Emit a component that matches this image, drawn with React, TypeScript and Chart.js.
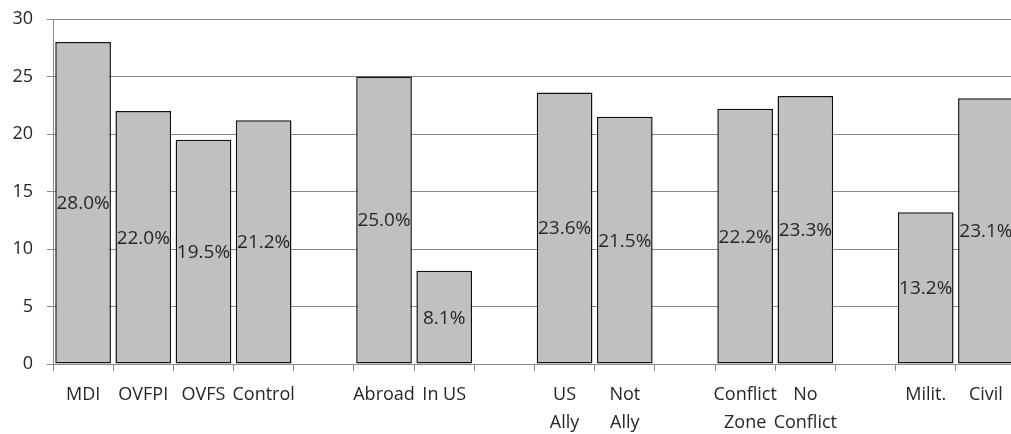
import React, { useEffect, useRef } from "react";
import { Chart, registerables } from "chart.js";

Chart.register(...registerables);

const categories: (string | string[])[] = [
  "MDI", "OVFPI", "OVFS", "Control", "",
  "Abroad", "In US", "",
  ["US", "Ally"], ["Not", "Ally"], "",
  ["Conflict", "Zone"], ["No", "Conflict"], "",
  "Milit.", "Civil",
];
const values: (number | null)[] = [
  28.0, 22.0, 19.5, 21.2, null,
  25.0, 8.1, null,
  23.6, 21.5, null,
  22.2, 23.3, null,
  13.2, 23.1,
];
const valueLabels: (string | null)[] = values.map((v) => (v == null ? null : v.toFixed(1) + "%"));
const yMin = 0;
const yMax = 30;
const yStep = 5;

const FONT = "'Open Sans', sans-serif";
const TEXT = "#262626";
const GRID = "#8a8a8a";

const barLabelPlugin = {
  id: "barLabels",
  afterDatasetsDraw(chart: any) {
    const meta = chart.getDatasetMeta(0);
    const ctx = chart.ctx;
    ctx.save();
    ctx.font = `19px ${FONT}`;
    ctx.fillStyle = TEXT;
    ctx.textAlign = "center";
    ctx.textBaseline = "middle";
    meta.data.forEach((bar: any, i: number) => {
      const label = valueLabels[i];
      if (label == null) return;
      const { x, y, base } = bar.getProps(["x", "y", "base"], true);
      ctx.fillText(label, x, (y + base) / 2 + 1);
    });
    ctx.restore();
  },
};

export default function App() {
  const ref = useRef<HTMLCanvasElement>(null);
  useEffect(() => {
    if (!ref.current) return;
    const chart = new Chart(ref.current, {
      type: "bar",
      data: {
        labels: categories as any,
        datasets: [
          {
            data: values as any,
            backgroundColor: "#c0c0c0",
            borderColor: "#111111",
            borderWidth: 1.5,
            borderSkipped: false,
            categoryPercentage: 1,
            barPercentage: 0.925,
          },
        ],
      },
      options: {
        animation: false,
        responsive: false,
        devicePixelRatio: 1,
        layout: { padding: { top: 19, right: 14, left: 0, bottom: 0 } },
        plugins: {
          legend: { display: false },
          tooltip: { enabled: false },
        },
        scales: {
          x: {
            grid: {
              offset: true,
              drawOnChartArea: false,
              drawTicks: true,
              tickLength: 7,
              color: GRID,
              lineWidth: 1,
            },
            border: { display: true, color: GRID, width: 1 },
            ticks: {
              autoSkip: false,
              maxRotation: 0,
              minRotation: 0,
              padding: 10,
              color: TEXT,
              font: { family: FONT, size: 18, lineHeight: 1.55 },
            },
            afterFit(scale: any) {
              scale.height = 70;
              scale.paddingLeft = 0;
              scale.paddingRight = 0;
              scale.paddingTop = 0;
              scale.paddingBottom = 0;
            },
          },
          y: {
            min: yMin,
            max: yMax,
            ticks: {
              stepSize: yStep,
              padding: 14,
              color: TEXT,
              font: { family: FONT, size: 18 },
            },
            grid: {
              color: GRID,
              lineWidth: 1,
              drawTicks: true,
              tickLength: 6,
            },
            border: { display: true, color: GRID, width: 1 },
            afterFit(scale: any) {
              scale.width = 53;
              scale.paddingTop = 0;
              scale.paddingBottom = 0;
              scale.paddingLeft = 0;
              scale.paddingRight = 0;
            },
          },
        },
      },
      plugins: [barLabelPlugin],
    });
    return () => chart.destroy();
  }, []);
  return (
    <div
      style={{
        position: "fixed",
        left: 0,
        top: 0,
        width: 1011,
        height: 434,
        overflow: "hidden",
        background: "#ffffff",
      }}
    >
      <canvas ref={ref} width={1030} height={434} style={{ display: "block", width: 1030, height: 434 }} />
    </div>
  );
}
